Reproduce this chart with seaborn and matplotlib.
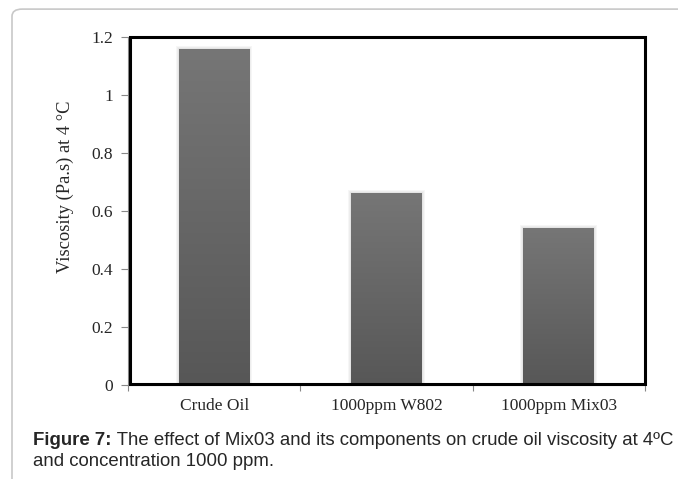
import numpy as np
import pandas as pd
import matplotlib
matplotlib.use("Agg")
import matplotlib.pyplot as plt
from matplotlib.patches import Rectangle, FancyBboxPatch
import seaborn as sns

# data
samples = ["Crude Oil", "1000ppm W802", "1000ppm Mix03"]
viscosity = [1.16, 0.662, 0.541]
y_ticks = [0, 0.2, 0.4, 0.6, 0.8, 1.0, 1.2]
y_tick_labels = ["0", "0.2", "0.4", "0.6", "0.8", "1", "1.2"]

df = pd.DataFrame({"sample": samples, "viscosity": viscosity})

sns.set_style("white")
plt.rcParams["font.family"] = ["Liberation Serif", "DejaVu Serif"]
sans = ["Liberation Sans", "DejaVu Sans"]

fig = plt.figure(figsize=(6.78, 4.79), dpi=100)
ax = fig.add_axes([0.1888, 0.1962, 0.7625, 0.7266])

sns.barplot(data=df, x="sample", y="viscosity", color="#666666",
            width=0.41, ax=ax, saturation=1, linewidth=0, edgecolor="none")

ax.set_xlim(-0.5, 2.5)
ax.set_ylim(0, 1.2)
ax.set_yticks(y_ticks)
ax.set_yticklabels(y_tick_labels)
ax.set_xlabel("")
ax.set_ylabel("Viscosity (Pa.s) at 4 °C", fontsize=13.3)
ax.yaxis.set_label_coords(-0.104, 0.569)

# pixel size in data units, for the soft shadow
px_x = 1.0 / 172.5
px_y = 1.2 / 348

grad = np.linspace(0, 1, 256).reshape(-1, 1)
cmap = matplotlib.colors.LinearSegmentedColormap.from_list("g", ["#575757", "#767676"])
for p in list(ax.patches):
    x0, y0 = p.get_x(), p.get_y()
    w, h = p.get_width(), p.get_height()
    for k in (3, 2, 1):
        ax.add_patch(Rectangle((x0 - k * px_x, y0), w + 2 * k * px_x, h + k * px_y,
                               facecolor="black", alpha=0.035, edgecolor="none",
                               zorder=1.5))
    p.set_zorder(2)
    im = ax.imshow(grad, extent=[x0, x0 + w, y0, y0 + h], origin="lower",
                   cmap=cmap, aspect="auto", zorder=3)
    im.set_clip_path(p)

ax.set_xlim(-0.5, 2.5)
ax.set_ylim(0, 1.2)

# ticks
ax.tick_params(axis="y", direction="out", length=5, width=0.8, color="#888888",
               labelsize=12.5, pad=6, left=True)
ax.tick_params(axis="x", which="major", length=0, labelsize=12.5, pad=9)
ax.set_xticks([-0.5, 0.5, 1.5, 2.5], minor=True)
ax.tick_params(axis="x", which="minor", direction="out", length=4, width=0.8,
               color="#888888", bottom=True)

for s in ["top", "right"]:
    ax.spines[s].set_visible(False)
for s in ["left", "bottom"]:
    ax.spines[s].set_color("#888888")
    ax.spines[s].set_linewidth(0.8)

# black plot-area frame
ax.add_patch(Rectangle((0.004, 0.004), 0.996, 0.996, transform=ax.transAxes,
                       fill=False, edgecolor="black", linewidth=2.2,
                       clip_on=False, zorder=5))

# outer rounded border
fig.patches.append(FancyBboxPatch((0.0177, -0.2), 1.2, 1.181,
                                  boxstyle="round,pad=0,rounding_size=0.015",
                                  transform=fig.transFigure, fill=False,
                                  edgecolor="#c8c8c8", linewidth=1.2))

# caption
cap = fig.text(0.0487, 0.071, "Figure 7:", fontsize=13.4, fontweight="bold",
               family=sans, va="baseline")
ax.annotate(" The effect of Mix03 and its components on crude oil viscosity at 4ºC",
            xy=(1, 0), xycoords=cap, va="bottom", fontsize=13.4,
            family=sans, annotation_clip=False)
fig.text(0.0487, 0.027, "and concentration 1000 ppm.", fontsize=13.4,
         family=sans, va="baseline")

fig.savefig("out.png", dpi=100)
